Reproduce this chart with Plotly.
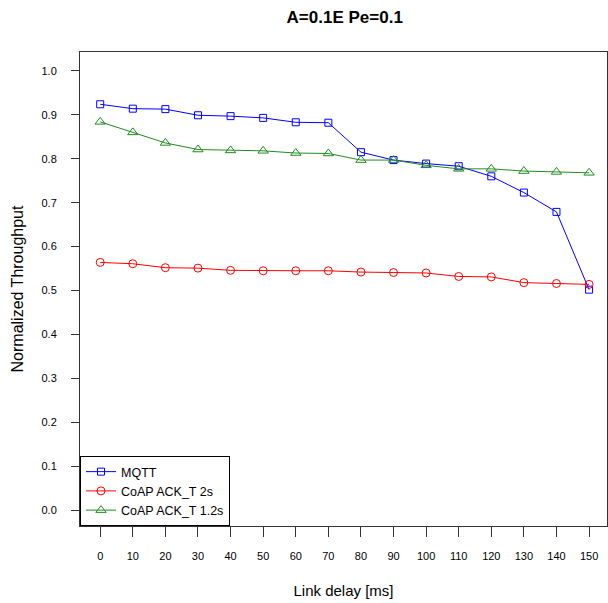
import plotly.graph_objects as go

delay = [0, 10, 20, 30, 40, 50, 60, 70, 80, 90, 100, 110, 120, 130, 140, 150]
mqtt = [0.924, 0.914, 0.913, 0.899, 0.897, 0.893, 0.883, 0.882, 0.815, 0.797, 0.789, 0.783, 0.760, 0.723, 0.679, 0.502]
coap_2s = [0.564, 0.561, 0.552, 0.551, 0.546, 0.545, 0.545, 0.545, 0.542, 0.541, 0.540, 0.532, 0.531, 0.518, 0.516, 0.514]
coap_12s = [0.884, 0.860, 0.836, 0.821, 0.819, 0.818, 0.813, 0.812, 0.797, 0.797, 0.785, 0.777, 0.777, 0.772, 0.770, 0.768]
yticks = [0.0, 0.1, 0.2, 0.3, 0.4, 0.5, 0.6, 0.7, 0.8, 0.9, 1.0]

FONT = "Liberation Sans, Arial, sans-serif"

fig = go.Figure()
fig.add_trace(go.Scatter(x=delay, y=mqtt, name="MQTT", mode="lines+markers",
                         line=dict(color="#0000FF", width=1),
                         marker=dict(symbol="square-open", size=7, color="#0000FF", line=dict(width=1))))
fig.add_trace(go.Scatter(x=delay, y=coap_2s, name="CoAP ACK_T 2s", mode="lines+markers",
                         line=dict(color="#FF0000", width=1),
                         marker=dict(symbol="circle-open", size=8, color="#FF0000", line=dict(width=1))))
fig.add_trace(go.Scatter(x=delay, y=coap_12s, name="CoAP ACK_T 1.2s", mode="lines+markers",
                         line=dict(color="#228B22", width=1),
                         marker=dict(symbol="triangle-up-open", size=9, color="#228B22", line=dict(width=1))))

fig.update_layout(
    width=608, height=603,
    margin=dict(l=80, r=1, t=52, b=77),
    paper_bgcolor="white", plot_bgcolor="white",
    font=dict(family=FONT, size=11, color="black"),
    title=dict(text="<b>A=0.1E Pe=0.1</b>", x=0.567, xanchor="center", y=0.971, yanchor="middle",
               font=dict(size=17, family=FONT, color="black")),
    showlegend=True,
    legend=dict(x=0, y=0, xanchor="left", yanchor="bottom", bgcolor="white",
                bordercolor="black", borderwidth=1, font=dict(size=12.5, family=FONT),
                tracegroupgap=0, itemwidth=30),
)
fig.update_xaxes(range=[-6.2, 155.5], tickvals=delay, ticks="outside", ticklen=10, tickcolor="#333",
                 showline=True, linecolor="#333", linewidth=1, mirror=True, showgrid=False, zeroline=False,
                 ticklabelstandoff=10,
                 title=dict(text="Link delay [ms]", font=dict(size=15, family=FONT), standoff=24))
fig.update_yaxes(range=[-0.036, 1.043], tickvals=yticks, tickformat=".1f", ticks="outside", ticklen=8,
                 tickcolor="#333", showline=True, linecolor="#333", linewidth=1, mirror=True,
                 showgrid=False, zeroline=False, ticklabelstandoff=12,
                 title=dict(text="Normalized Throughput", font=dict(size=16, family=FONT), standoff=13))

fig.write_html("out.html")
